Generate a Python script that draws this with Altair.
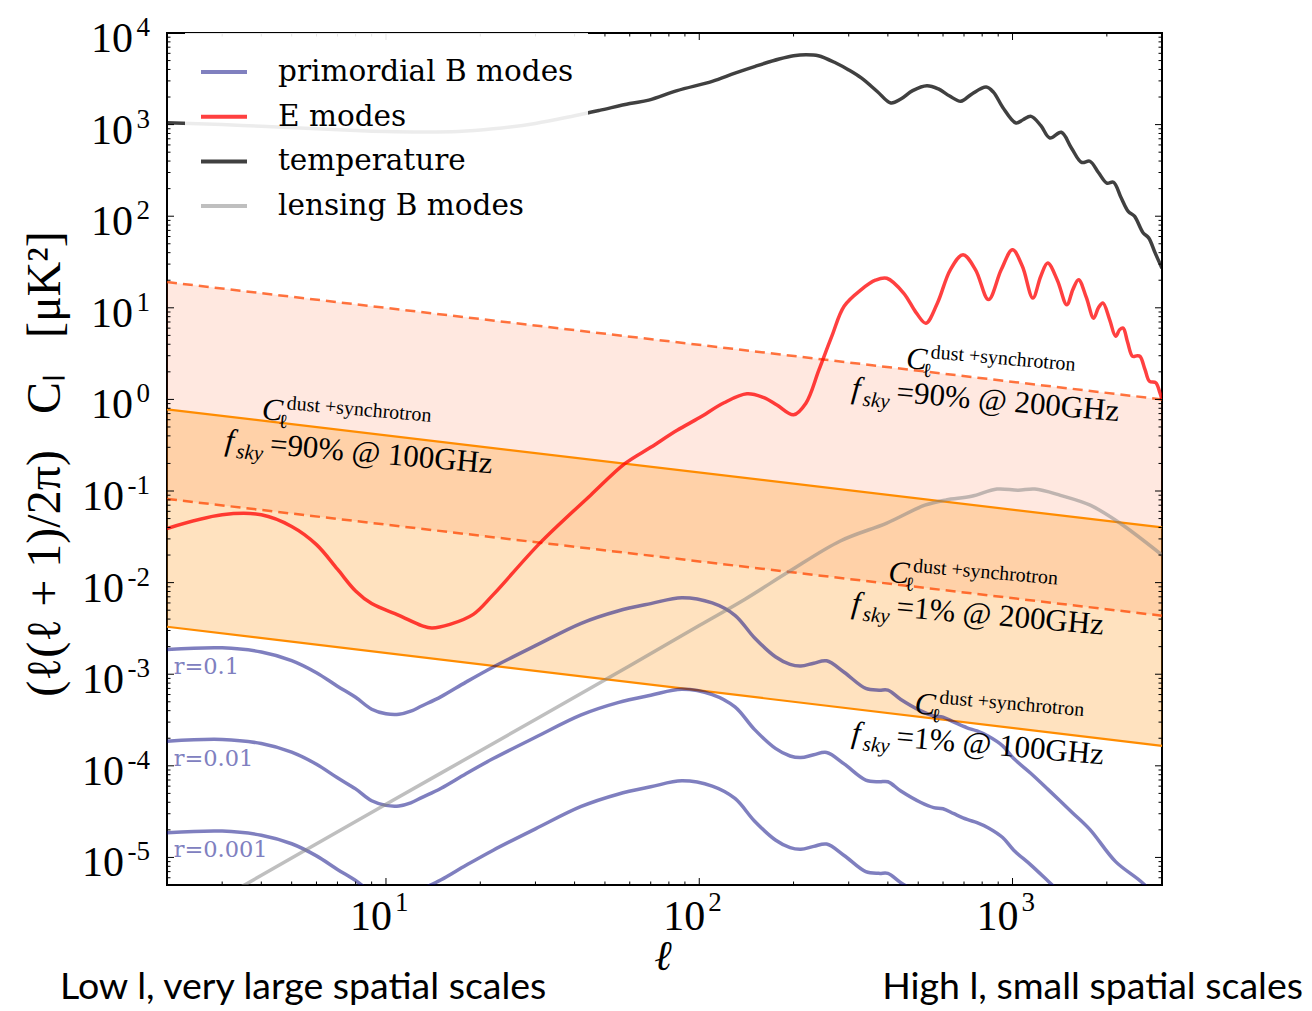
import altair as alt
import pandas as pd

W, H = 995, 852
SERIF = "Liberation Serif"
WIDE_SERIF = "DejaVu Serif"
SANS = "Lato"

# ---------------- spectra: l(l+1)C_l/2pi in muK^2 ----------------
tt_ell = [2, 3, 4, 6, 8, 10, 13, 17, 22, 30, 40, 48, 60, 69, 85, 110, 130, 151, 180, 200,
          219, 240, 273, 300, 329, 370, 409, 440, 480, 533, 580, 630, 684, 740, 824, 870, 930,
          1026, 1080, 1146, 1230, 1316, 1431, 1540, 1661, 1766, 1880, 2000, 2100, 2220, 2340,
          2450, 2610, 2720, 2850, 3000]
tt_dl = [1050, 1000, 960, 900, 860, 840, 830, 840, 900, 1030, 1250, 1430, 1700, 1850, 2350,
         2970, 3650, 4330, 5200, 5650, 5800, 5650, 4700, 3950, 3230, 2300, 1720, 1900, 2350,
         2660, 2450, 2050, 1800, 2150, 2570, 2250, 1550, 1040, 1130, 1230, 980, 714, 824, 560,
         387, 398, 300, 230, 235, 160, 113, 100, 66, 58, 40, 27]

ee_ell = [2, 3, 4, 5, 6, 7, 8, 9, 11, 13, 14, 16, 19, 22, 31, 45, 58, 70, 85, 100, 120, 142,
          160, 177, 200, 219, 241, 265, 290, 329, 365, 397, 449, 493, 529, 576, 633, 695, 762,
          838, 920, 1000, 1075, 1161, 1230, 1295, 1390, 1490, 1560, 1625, 1720, 1815, 1880,
          1943, 2040, 2133, 2200, 2255, 2330, 2417, 2500, 2553, 2650, 2735, 2866, 2950, 3000]
ee_dl = [0.039, 0.055, 0.055, 0.041, 0.026, 0.014, 0.0081, 0.0059, 0.0044, 0.0034, 0.0032,
         0.0035, 0.0045, 0.0074, 0.027, 0.09, 0.2, 0.3, 0.46, 0.63, 0.92, 1.15, 1.05, 0.87,
         0.68, 0.91, 2.1, 4.9, 10.4, 15.8, 20, 21, 14.5, 8.8, 6.8, 11.3, 26, 38, 26, 12.3, 26,
         43, 28.4, 12.8, 22, 30.8, 20, 10.8, 16, 20.3, 13, 7.7, 10, 11.3, 7.5, 4.9, 5.8, 6.0,
         4.2, 2.95, 3.0, 2.95, 2.1, 1.58, 1.52, 1.2, 0.99]

lens_ell = [2, 3.5, 10, 30, 60, 100, 140, 194, 282, 397, 525, 614, 740, 892, 1042, 1178, 1422,
            1770, 2200, 3000]
lens_dl = [1.6e-6, 4.9e-6, 3.8e-5, 3.2e-4, 1.24e-3, 3.4e-3, 6.6e-3, 0.0133, 0.0285, 0.0447,
           0.07, 0.08, 0.0875, 0.105, 0.102, 0.105, 0.0897, 0.07, 0.0447, 0.02]

bb_ell = [2, 3, 4, 5, 6, 7, 8, 9, 10, 11, 12, 13, 15, 18, 22, 30, 42, 55, 70, 88, 110, 130,
          150, 175, 195, 211, 232, 255, 290, 340, 375, 400, 440, 508, 560, 600, 650, 716, 770,
          838, 930, 1009, 1143, 1300, 1550, 1770, 2133, 2612, 3000]
bb_r01 = [1.86e-3, 1.94e-3, 1.75e-3, 1.41e-3, 1.04e-3, 7.4e-4, 5.6e-4, 4.15e-4, 3.7e-4, 3.65e-4,
          3.95e-4, 4.5e-4, 5.7e-4, 8.2e-4, 1.2e-3, 2.05e-3, 3.6e-3, 4.9e-3, 5.9e-3, 6.85e-3,
          6.0e-3, 4.4e-3, 2.5e-3, 1.55e-3, 1.28e-3, 1.23e-3, 1.32e-3, 1.4e-3, 1.05e-3, 7.0e-4,
          6.7e-4, 6.7e-4, 5.3e-4, 4.0e-4, 3.5e-4, 3.4e-4, 3.0e-4, 2.6e-4, 2.4e-4, 2.1e-4,
          1.65e-4, 1.2e-4, 8.3e-5, 5.5e-5, 3.1e-5, 2.0e-5, 9.0e-6, 5.2e-6, 3.0e-6]
bb_r001 = [1.86e-4, 1.94e-4, 1.75e-4, 1.41e-4, 1.04e-4, 7.4e-5, 5.6e-5, 4.15e-5, 3.7e-5, 3.65e-5,
           3.95e-5, 4.5e-5, 5.7e-5, 8.2e-5, 1.2e-4, 2.05e-4, 3.6e-4, 4.9e-4, 5.9e-4, 6.85e-4,
           6.0e-4, 4.4e-4, 2.5e-4, 1.55e-4, 1.28e-4, 1.23e-4, 1.32e-4, 1.4e-4, 1.05e-4, 7.0e-5,
           6.7e-5, 6.7e-5, 5.3e-5, 4.0e-5, 3.5e-5, 3.4e-5, 3.0e-5, 2.6e-5, 2.4e-5, 2.1e-5,
           1.65e-5, 1.2e-5, 8.3e-6, 5.5e-6, 3.1e-6, 2.0e-6, 9.0e-7, 5.2e-7, 3.0e-7]
bb_r0001 = [1.86e-5, 1.94e-5, 1.75e-5, 1.41e-5, 1.04e-5, 7.4e-6, 5.6e-6, 4.15e-6, 3.7e-6, 3.65e-6,
            3.95e-6, 4.5e-6, 5.7e-6, 8.2e-6, 1.2e-5, 2.05e-5, 3.6e-5, 4.9e-5, 5.9e-5, 6.85e-5,
            6.0e-5, 4.4e-5, 2.5e-5, 1.55e-5, 1.28e-5, 1.23e-5, 1.32e-5, 1.4e-5, 1.05e-5, 7.0e-6,
            6.7e-6, 6.7e-6, 5.3e-6, 4.0e-6, 3.5e-6, 3.4e-6, 3.0e-6, 2.6e-6, 2.4e-6, 2.1e-6,
            1.65e-6, 1.2e-6, 8.3e-7, 5.5e-7, 3.1e-7, 2.0e-7, 9.0e-8, 5.2e-8, 3.0e-8]
r_values = ["0.1", "0.01", "0.001"]

# dust + synchrotron levels at both ends of the multipole range (power laws)
fg_ell = [2, 3000]
fg_sky90_200 = [19.1, 1.0]
fg_sky90_100 = [0.78, 0.040]
fg_sky1_200 = [0.082, 0.00435]
fg_sky1_100 = [0.0033, 0.000165]

series_names = ["primordial B modes", "E modes", "temperature", "lensing B modes"]
series_colors = ["#8080bf", "#ff4040", "#404040", "#bfbfbf"]

# foreground annotations
note_f_ell = [3.05, 305, 305, 305]
note_f_dl = [0.28, 1.04, 0.0047, 1.8e-4]
note_c_ell = [4.0, 455, 400, 485]
note_c_dl = [0.61, 2.2, 0.0102, 3.74e-4]
note_text = ["=90% @ 100GHz", "=90% @ 200GHz", "=1% @ 200GHz", "=1% @ 100GHz"]

r_label_text = ["r=0.1", "r=0.01", "r=0.001"]
r_label_ell = [2.1, 2.1, 2.1]
r_label_dl = [1e-3, 1e-4, 1e-5]

y_exponents = list(range(-5, 5))
x_exponents = [1, 2, 3]
NB = "\u00a0"
y_title = ("(\u2113(\u2113" + NB + "+" + NB + "1)/2\u03c0)" + NB * 3 + "C\u2097" + NB * 3
           + "[\u03bcK\u00b2]")
x_title = "\u2113"
captions = ["Low l, very large spatial scales", "High l, small spatial scales"]

# ---------------- scales ----------------
xs = alt.Scale(type="log", domain=[2, 3000], nice=False)
ys = alt.Scale(type="log", domain=[5e-6, 1e4], nice=False)


def X(f="ell"):
    return alt.X(f"{f}:Q", scale=xs, axis=None)


def Y(f="dl"):
    return alt.Y(f"{f}:Q", scale=ys, axis=None)


# ---------------- foreground bands and lines ----------------
fg = pd.DataFrame({"ell": fg_ell, "s90_200": fg_sky90_200, "s90_100": fg_sky90_100,
                   "s1_200": fg_sky1_200, "s1_100": fg_sky1_100})
band_200 = alt.Chart(fg).mark_area(color="#ff4500", opacity=0.12).encode(
    x=X(), y=Y("s90_200"), y2="s1_200:Q")
band_100 = alt.Chart(fg).mark_area(color="#ff8c00", opacity=0.25).encode(
    x=X(), y=Y("s90_100"), y2="s1_100:Q")

fg_long = fg.melt(id_vars="ell", var_name="level", value_name="dl")
dashed = alt.Chart(fg_long[fg_long.level.isin(["s90_200", "s1_200"])]).mark_line(
    color="#ff4500", opacity=0.75, strokeWidth=2.5, strokeDash=[10, 6]).encode(
    x=X(), y=Y(), detail="level:N")
solid = alt.Chart(fg_long[fg_long.level.isin(["s90_100", "s1_100"])]).mark_line(
    color="#ff8c00", strokeWidth=2.2).encode(x=X(), y=Y(), detail="level:N")

# ---------------- spectra ----------------
bb_df = pd.concat([pd.DataFrame({"ell": bb_ell, "dl": v, "r": r})
                   for r, v in zip(r_values, [bb_r01, bb_r001, bb_r0001])])
line_kw = dict(strokeWidth=3.5, interpolate="catmull-rom", clip=True)
prim = alt.Chart(bb_df).mark_line(color="#000080", opacity=0.5, **line_kw).encode(
    x=X(), y=Y(), detail="r:N")
lens = alt.Chart(pd.DataFrame({"ell": lens_ell, "dl": lens_dl})).mark_line(
    color="#808080", opacity=0.5, **line_kw).encode(x=X(), y=Y())
emode = alt.Chart(pd.DataFrame({"ell": ee_ell, "dl": ee_dl})).mark_line(
    color="#ff0000", opacity=0.75, **line_kw).encode(x=X(), y=Y())
temp = alt.Chart(pd.DataFrame({"ell": tt_ell, "dl": tt_dl})).mark_line(
    color="#000000", opacity=0.75, **line_kw).encode(x=X(), y=Y())

# legend (keyed on the series names only)
key = alt.Chart(pd.DataFrame({"series": series_names, "ell": [10] * 4, "dl": [1] * 4})
                ).transform_filter("false").mark_line(strokeWidth=4).encode(
    x=X(), y=Y(),
    color=alt.Color("series:N", sort=series_names,
                    scale=alt.Scale(domain=series_names, range=series_colors),
                    legend=alt.Legend(title=None, orient="none", legendX=18, legendY=0,
                                      direction="vertical", symbolType="stroke",
                                      symbolSize=2116, symbolStrokeWidth=4,
                                      symbolOpacity=1, labelFont=WIDE_SERIF,
                                      labelFontSize=29.5, labelColor="black",
                                      labelOffset=29, labelLimit=600,
                                      rowPadding=4.7, padding=14,
                                      fillColor="rgba(255,255,255,0.9)", zindex=1)))

# ---------------- annotations ----------------
nf = pd.DataFrame({"ell": note_f_ell, "dl": note_f_dl, "t": note_text})
nc = pd.DataFrame({"ell": note_c_ell, "dl": note_c_dl})
tkw = dict(font=SERIF, color="black", align="left", baseline="alphabetic", angle=5)
note_layers = [
    alt.Chart(nf).mark_text(fontSize=31, fontStyle="italic", **tkw).encode(
        x=X(), y=Y(), text=alt.value("f")),
    alt.Chart(nf).mark_text(fontSize=21, fontStyle="italic", dx=12, dy=7, **tkw).encode(
        x=X(), y=Y(), text=alt.value("sky")),
    alt.Chart(nf).mark_text(fontSize=31, dx=45, **tkw).encode(x=X(), y=Y(), text="t:N"),
    alt.Chart(nc).mark_text(fontSize=31, fontStyle="italic", **tkw).encode(
        x=X(), y=Y(), text=alt.value("C")),
    alt.Chart(nc).mark_text(fontSize=20, dx=17, dy=7, **tkw).encode(
        x=X(), y=Y(), text=alt.value("\u2113")),
    alt.Chart(nc).mark_text(fontSize=20, dx=24, dy=-12, **tkw).encode(
        x=X(), y=Y(), text=alt.value("dust +synchrotron")),
]

rl = pd.DataFrame({"ell": r_label_ell, "dl": r_label_dl, "t": r_label_text})
r_labels = alt.Chart(rl).mark_text(font=WIDE_SERIF, fontSize=22.5, color="#8080bf",
                                   align="left", baseline="alphabetic").encode(
    x=X(), y=Y(), text="t:N")

# ---------------- ticks (inward, mirrored) ----------------
y_major = [10.0 ** e for e in y_exponents]
y_minor = [m * 10.0 ** e for e in range(-6, 4) for m in range(2, 10)
           if 5e-6 <= m * 10.0 ** e <= 1e4]
x_major = [10.0 ** e for e in x_exponents]
x_minor = [m * 10.0 ** e for e in range(0, 4) for m in range(2, 10)
           if 2 <= m * 10.0 ** e <= 3000]


def y_ticks(vals, n):
    d = pd.DataFrame({"dl": vals})
    b = alt.Chart(d).mark_rule(color="black", strokeWidth=1)
    return [b.encode(y=Y(), x=alt.value(0), x2=alt.value(n)),
            b.encode(y=Y(), x=alt.value(W), x2=alt.value(W - n))]


def x_ticks(vals, n):
    d = pd.DataFrame({"ell": vals})
    b = alt.Chart(d).mark_rule(color="black", strokeWidth=1)
    return [b.encode(x=X(), y=alt.value(H), y2=alt.value(H - n)),
            b.encode(x=X(), y=alt.value(0), y2=alt.value(n))]


ticks = y_ticks(y_major, 7) + y_ticks(y_minor, 3.5) + x_ticks(x_major, 7) + x_ticks(x_minor, 3.5)

# tick labels as 10 with a raised exponent
yl = pd.DataFrame({"dl": y_major, "e": y_exponents, "ex": [str(e) for e in y_exponents]})
ykw = dict(font=SERIF, color="black", align="right", baseline="alphabetic")
y_labels = [
    alt.Chart(yl).transform_filter("datum.e >= 0").mark_text(fontSize=42, dy=19, **ykw).encode(
        y=Y(), x=alt.value(-34), text=alt.value("10")),
    alt.Chart(yl).transform_filter("datum.e < 0").mark_text(fontSize=42, dy=19, **ykw).encode(
        y=Y(), x=alt.value(-43), text=alt.value("10")),
    alt.Chart(yl).mark_text(fontSize=27, dy=3, **ykw).encode(
        y=Y(), x=alt.value(-17), text="ex:N"),
]
xl = pd.DataFrame({"ell": x_major, "ex": [str(e) for e in x_exponents]})
x_labels = [
    alt.Chart(xl).mark_text(font=SERIF, fontSize=42, color="black", align="right",
                            baseline="alphabetic", dx=6).encode(
        x=X(), y=alt.value(H + 45), text=alt.value("10")),
    alt.Chart(xl).mark_text(font=SERIF, fontSize=27, color="black", align="left",
                            baseline="alphabetic", dx=9).encode(
        x=X(), y=alt.value(H + 26), text="ex:N"),
]

# ---------------- titles and captions ----------------
y_title_layer = alt.Chart(pd.DataFrame({"t": [y_title]})).mark_text(
    font=SERIF, fontSize=48, angle=270, align="center", baseline="alphabetic",
    color="black").encode(x=alt.value(-107), y=alt.value(431), text="t:N")
x_title_layer = alt.Chart(pd.DataFrame({"t": [x_title]})).mark_text(
    font=SERIF, fontSize=42, fontStyle="italic", align="center", baseline="alphabetic",
    color="black").encode(x=alt.value(496), y=alt.value(937), text="t:N")
cap_low = alt.Chart(pd.DataFrame({"t": [captions[0]]})).mark_text(
    font=SANS, fontSize=37.5, align="left", baseline="alphabetic", color="black").encode(
    x=alt.value(-107), y=alt.value(966), text="t:N")
cap_high = alt.Chart(pd.DataFrame({"t": [captions[1]]})).mark_text(
    font=SANS, fontSize=37.5, align="right", baseline="alphabetic", color="black").encode(
    x=alt.value(1136), y=alt.value(966), text="t:N")

layers = ([band_200, band_100, dashed, solid, prim, lens, emode, temp, key]
          + note_layers + [r_labels] + ticks + y_labels + x_labels
          + [y_title_layer, x_title_layer, cap_low, cap_high])

chart = alt.layer(*layers).properties(
    width=W, height=H, background="white",
    padding={"left": 167, "top": 33, "right": 150, "bottom": 126},
    autosize=alt.AutoSizeParams(type="none"),
).configure_view(stroke="black", strokeWidth=2)

chart.save("out.html", embed_options={"renderer": "svg", "actions": False})
